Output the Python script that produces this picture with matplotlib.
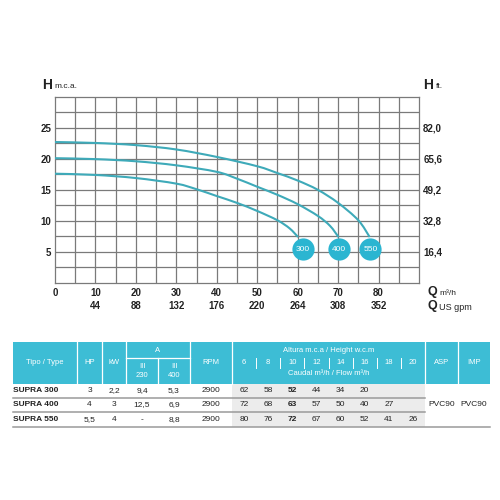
import matplotlib
matplotlib.use("Agg")
import matplotlib.pyplot as plt
from matplotlib.path import Path
from matplotlib.patches import PathPatch, Rectangle
import numpy as np

plt.rcParams['font.family'] = ['Liberation Sans', 'DejaVu Sans']

# ---------------- data ----------------
q_300 = [0, 10, 20, 30, 35, 40, 45, 50, 55, 58, 60.1]
h_300 = [17.6, 17.4, 16.9, 16.0, 15.1, 14.0, 12.9, 11.6, 10.1, 8.8, 7.4]
q_400 = [0, 10, 20, 30, 40, 45, 50, 55, 60, 65, 68, 70.1]
h_400 = [20.1, 19.95, 19.6, 18.95, 17.9, 16.8, 15.5, 14.2, 12.7, 10.8, 9.2, 7.4]
q_550 = [0, 10, 20, 30, 40, 50, 55, 60, 65, 70, 75, 77.8]
h_550 = [22.7, 22.55, 22.2, 21.5, 20.3, 18.8, 17.7, 16.5, 15.0, 12.9, 10.1, 7.4]

model_labels = ['300', '400', '550']
badge_q = [61.2, 70.3, 78.0]
badge_h = [5.4, 5.4, 5.4]

q_ticks = [0, 10, 20, 30, 40, 50, 60, 70, 80]
gpm_labels = ['', '44', '88', '132', '176', '220', '264', '308', '352']
h_ticks = [5, 10, 15, 20, 25]
ft_labels = ['16,4', '32,8', '49,2', '65,6', '82,0']

models = ['SUPRA 300', 'SUPRA 400', 'SUPRA 550']
hp = ['3', '4', '5,5']
kw = ['2,2', '3', '4']
amp_230 = ['9,4', '12,5', '-']
amp_400 = ['5,3', '6,9', '8,8']
rpm = ['2900', '2900', '2900']
heights = ['6', '8', '10', '12', '14', '16', '18', '20']
flows = [
    ['62', '58', '52', '44', '34', '20', '', ''],
    ['72', '68', '63', '57', '50', '40', '27', ''],
    ['80', '76', '72', '67', '60', '52', '41', '26'],
]
asp = 'PVC90'
imp = 'PVC90'

# ---------------- styles ----------------
CURVE = '#3eaab9'
BADGE = '#2bb5d1'
HEAD = '#3dbdd5'
GRID = '#7a7a7a'
TXT = '#222222'

fig = plt.figure(figsize=(5, 5), dpi=100)

# overlay axes in pixel coordinates (for the table and unit labels)
ov = fig.add_axes([0, 0, 1, 1])
ov.set_xlim(0, 500)
ov.set_ylim(500, 0)
ov.axis('off')

# ---------------- chart ----------------
L, R, T, B = 55, 419, 96.7, 283
ax = fig.add_axes([L / 500, (500 - B) / 500, (R - L) / 500, (B - T) / 500])
ax.set_xlim(0, 90)
ax.set_ylim(0, 30)
for v in np.arange(5, 90, 5):
    ax.axvline(v, color=GRID, lw=0.9, zorder=1)
for v in np.arange(2.5, 30, 2.5):
    ax.axhline(v, color=GRID, lw=0.9, zorder=1)
for s in ax.spines.values():
    s.set_color(GRID)
    s.set_linewidth(0.9)

ax.set_xticks(q_ticks)
ax.set_xticklabels([str(t) for t in q_ticks], fontsize=7, fontweight='bold', color=TXT)
ax.set_yticks(h_ticks)
ax.set_yticklabels([str(t) for t in h_ticks], fontsize=7, fontweight='bold', color=TXT)
ax.tick_params(axis='x', length=0, pad=3.4)
ax.tick_params(axis='y', length=0, pad=2.6)
for q, lab in zip(q_ticks, gpm_labels):
    ax.text(q, -0.123, lab, transform=ax.get_xaxis_transform(), ha='center',
            va='center', fontsize=7, fontweight='bold', color=TXT)

tw = ax.twinx()
tw.set_ylim(0, 30)
tw.set_yticks(h_ticks)
tw.set_yticklabels(ft_labels, fontsize=7, fontweight='bold', color=TXT)
tw.tick_params(axis='y', length=0, pad=3)
for s in tw.spines.values():
    s.set_visible(False)


def smooth_path(xs, ys):
    pts = np.column_stack([xs, ys]).astype(float)
    n = len(pts)
    verts = [pts[0]]
    codes = [Path.MOVETO]
    for i in range(n - 1):
        p0 = pts[i - 1] if i > 0 else pts[i]
        p1 = pts[i]
        p2 = pts[i + 1]
        p3 = pts[i + 2] if i + 2 < n else pts[i + 1]
        c1 = p1 + (p2 - p0) / 6.0
        c2 = p2 - (p3 - p1) / 6.0
        verts += [c1, c2, p2]
        codes += [Path.CURVE4] * 3
    return Path(verts, codes)


for qs, hs in [(q_300, h_300), (q_400, h_400), (q_550, h_550)]:
    ax.add_patch(PathPatch(smooth_path(qs, hs), fill=False, edgecolor=CURVE,
                           lw=1.5, zorder=3))

ax.plot(badge_q, badge_h, 'o', ms=16, color=BADGE, mec='none', zorder=4)
for q, h, lab in zip(badge_q, badge_h, model_labels):
    ax.text(q, h, lab, ha='center', va='center', fontsize=6, color='white', zorder=5)

# unit labels
ov.text(42, 85, 'H', fontsize=10, fontweight='bold', color=TXT, va='center', ha='left')
ov.text(54.5, 86, 'm.c.a.', fontsize=6, color=TXT, va='center', ha='left')
ov.text(423, 85, 'H', fontsize=10, fontweight='bold', color=TXT, va='center', ha='left')
ov.text(435.5, 86, 'ft.', fontsize=6, color=TXT, va='center', ha='left')
ov.text(427, 292.5, 'Q', fontsize=9, fontweight='bold', color=TXT, va='center', ha='left')
ov.text(439, 293.5, 'm³/h', fontsize=6, color=TXT, va='center', ha='left')
ov.text(427, 306, 'Q', fontsize=9, fontweight='bold', color=TXT, va='center', ha='left')
ov.text(439, 307, 'US gpm', fontsize=6.5, color=TXT, va='center', ha='left')

# ---------------- table ----------------
tx0, tx1 = 13, 490
hy0, hy1 = 341.5, 383.5
row_y = [384, 398, 412, 426.5]
cols = [13, 77, 102, 126, 158, 190, 232]
hx0, hx1 = 232, 425
hw = (hx1 - hx0) / len(heights)
asp_x = [425, 458, 490]

ov.add_patch(Rectangle((tx0, hy0), tx1 - tx0, hy1 - hy0, color=HEAD, lw=0))
ov.add_patch(Rectangle((hx0, row_y[0]), hx1 - hx0, row_y[3] - row_y[0], color='#ececec', lw=0))

for x in [77, 102, 126, 190, 232, 425, 458]:
    ov.plot([x, x], [hy0, hy1], color='white', lw=0.9)
ov.plot([158, 158], [358, hy1], color='white', lw=0.9)
ov.plot([126, 190], [358, 358], color='white', lw=0.9)
for i in range(1, len(heights)):
    x = hx0 + hw * i
    ov.plot([x, x], [357.5, 367.5], color='white', lw=0.7)

hfs = 5.5
ov.text(45, 363, 'Tipo / Type', color='white', fontsize=hfs, ha='center', va='center')
ov.text(89.5, 363, 'HP', color='white', fontsize=hfs, ha='center', va='center')
ov.text(114, 363, 'kW', color='white', fontsize=hfs, ha='center', va='center')
ov.text(158, 350, 'A', color='white', fontsize=hfs, ha='center', va='center')
ov.text(142, 366.5, 'III', color='white', fontsize=hfs, ha='center', va='center')
ov.text(142, 375.5, '230', color='white', fontsize=hfs, ha='center', va='center')
ov.text(174, 366.5, 'III', color='white', fontsize=hfs, ha='center', va='center')
ov.text(174, 375.5, '400', color='white', fontsize=hfs, ha='center', va='center')
ov.text(211, 363, 'RPM', color='white', fontsize=hfs, ha='center', va='center')
ov.text((hx0 + hx1) / 2, 351, 'Altura m.c.a / Height w.c.m', color='white', fontsize=hfs,
        ha='center', va='center')
ov.text((hx0 + hx1) / 2, 373.5, 'Caudal m³/h / Flow m³/h', color='white', fontsize=hfs,
        ha='center', va='center')
for i, h in enumerate(heights):
    ov.text(hx0 + hw * (i + 0.5), 362.5, h, color='white', fontsize=hfs, ha='center', va='center')
ov.text(441.5, 363, 'ASP', color='white', fontsize=hfs, ha='center', va='center')
ov.text(474, 363, 'IMP', color='white', fontsize=hfs, ha='center', va='center')

for y in row_y[1:3]:
    ov.plot([tx0, hx1], [y, y], color='#9a9a9a', lw=1.1)
ov.plot([tx0, tx1], [row_y[3], row_y[3]], color='#9a9a9a', lw=1.1)

dfs = 6
for r in range(3):
    yc = (row_y[r] + row_y[r + 1]) / 2
    ov.text(13, yc, models[r], fontsize=dfs, fontweight='bold', color=TXT, ha='left', va='center')
    ov.text(89.5, yc, hp[r], fontsize=dfs, color=TXT, ha='center', va='center')
    ov.text(114, yc, kw[r], fontsize=dfs, color=TXT, ha='center', va='center')
    ov.text(142, yc, amp_230[r], fontsize=dfs, color=TXT, ha='center', va='center')
    ov.text(174, yc, amp_400[r], fontsize=dfs, color=TXT, ha='center', va='center')
    ov.text(211, yc, rpm[r], fontsize=dfs, color=TXT, ha='center', va='center')
    for i, f in enumerate(flows[r]):
        ov.text(hx0 + hw * (i + 0.5), yc, f, fontsize=dfs, color=TXT, ha='center', va='center',
                fontweight='bold' if heights[i] == '10' else 'normal')
yc = (row_y[1] + row_y[2]) / 2
ov.text(441.5, yc, asp, fontsize=dfs, color=TXT, ha='center', va='center')
ov.text(474, yc, imp, fontsize=dfs, color=TXT, ha='center', va='center')

fig.savefig('out.png', dpi=100, facecolor='white')
